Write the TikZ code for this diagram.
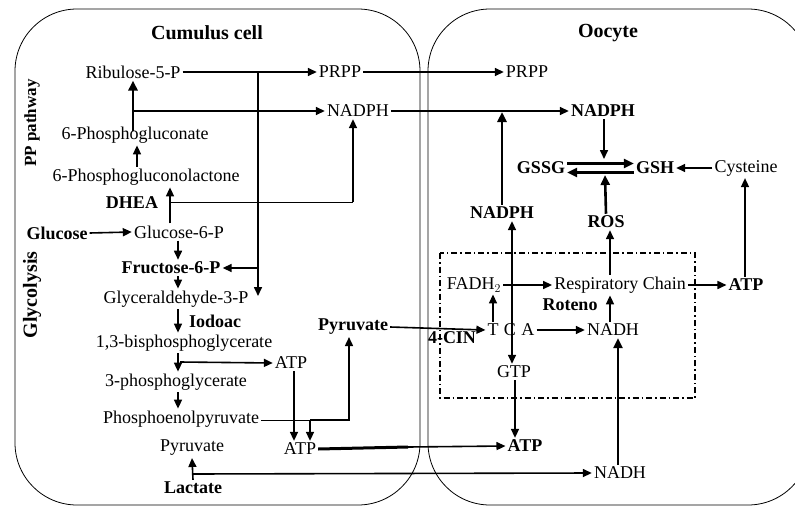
\documentclass[tikz,border=0pt]{standalone}
\usepackage{fontspec}
\setmainfont{Liberation Serif}
\usetikzlibrary{arrows.meta}
\begin{document}
\begin{tikzpicture}[x=1pt,y=-1pt,
  lbl/.style={inner sep=2pt, font=\fontsize{18}{20}\selectfont},
  blbl/.style={inner sep=2pt, font=\fontsize{18}{20}\selectfont\bfseries},
  hdr/.style={inner sep=1pt, font=\fontsize{20}{22}\selectfont\bfseries},
  cell/.style={draw, line width=0.8pt, rounded corners=62pt},
  arr/.style={-{Triangle[length=9pt,width=8pt]}, line width=1.6pt},
  arrT/.style={-{Triangle[length=10pt,width=9pt]}, line width=2.6pt},
  boxline/.style={line width=1.5pt, dash pattern=on 6pt off 3pt on 1.5pt off 3pt}]
\useasboundingbox (0,0) rectangle (795,506);
\fill[white] (0,0) rectangle (795,506);
% cells
\draw[cell] (15,9) rectangle (420,505);
\draw[cell] (428,9) rectangle (810,505);
% mitochondrion box
\draw[boxline] (440,253) rectangle (695,398);
% headers
\node[hdr] (hdrL) at (207,33) {Cumulus cell};
\node[hdr] (hdrR) at (608,33) {Oocyte};
\node[inner sep=1pt, font=\fontsize{17}{19}\selectfont\bfseries, rotate=90] (pp) at (32,123) {PP pathway};
\node[inner sep=1pt, font=\fontsize{20}{22}\selectfont\bfseries, rotate=90] (gly) at (32,295) {Glycolysis};
% cumulus nodes
\node[lbl] (rib) at (133,72) {Ribulose-5-P};
\node[lbl] (prppA) at (340,72) {PRPP};
\node[lbl] (prppB) at (527,72) {PRPP};
\node[lbl] (nadphA) at (358,111) {NADPH};
\node[blbl] (nadphB) at (603,111) {NADPH};
\node[lbl] (pglu) at (135,135) {6-Phosphogluconate};
\node[lbl] (pgl) at (146,177) {6-Phosphogluconolactone};
\node[blbl] (dhea) at (132,203) {DHEA};
\node[blbl] (glc) at (57,233) {Glucose};
\node[lbl] (g6p) at (179,232) {Glucose-6-P};
\node[blbl] (f6p) at (171,268) {Fructose-6-P};
\node[lbl] (gap) at (176,299) {Glyceraldehyde-3-P};
\node[blbl] (iodo) at (215,321) {Iodoac};
\node[lbl] (bpg) at (184,343) {1,3-bisphosphoglycerate};
\node[lbl] (atpA) at (291,363) {ATP};
\node[lbl] (pg3) at (176,382) {3-phosphoglycerate};
\node[lbl] (pep) at (181,419) {Phosphoenolpyruvate};
\node[blbl] (pyrA) at (353,327) {Pyruvate};
\node[lbl] (atpB) at (300,449) {ATP};
\node[lbl] (pyrB) at (192,448) {Pyruvate};
\node[blbl] (lac) at (193,488) {Lactate};
% oocyte nodes
\node[blbl] (atpC) at (525,446) {ATP};
\node[lbl] (nadhB) at (620,473) {NADH};
\node[blbl] (gssg) at (541,168) {GSSG};
\node[blbl] (gsh) at (655,168) {GSH};
\node[lbl] (cys) at (746,168) {Cysteine};
\node[blbl] (ros) at (606,222) {ROS};
\node[blbl] (nadphC) at (502,213) {NADPH};
\node[lbl] (fadh) at (474,285) {FADH$_2$};
\node[lbl] (resp) at (620,285) {Respiratory Chain};
\node[blbl] (atpD) at (746,285) {ATP};
\node[blbl] (roteno) at (570,305) {Roteno};
\node[lbl] (tca) at (511,330) {\addfontfeature{LetterSpace=30}TCA};
\node[lbl] (nadhA) at (613,330) {NADH};
\node[blbl] (cin) at (452,338) {4-CIN};
\node[lbl] (gtp) at (514,372) {GTP};
% lane coordinates
\coordinate (x133) at (133,0);
\coordinate (x137) at (137,0);
\coordinate (x170) at (170,0);
\coordinate (x178) at (178,0);
\coordinate (x294) at (294,0);
\coordinate (x310) at (310,0);
\coordinate (x349) at (349,0);
\coordinate (x353) at (353,0);
\coordinate (x493) at (493,0);
\coordinate (x512) at (512,0);
\coordinate (x515) at (515,0);
\coordinate (x604) at (604,0);
\coordinate (x610) at (610,0);
\coordinate (x618) at (618,0);
\coordinate (x745) at (745,0);
\coordinate (jA) at (258,72);
\coordinate (jB) at (258,268);
\coordinate (jC) at (258,296);
\coordinate (k1) at (133,111);
\coordinate (k0) at (133,131);
\coordinate (dA) at (170,202);
\coordinate (dB) at (353,202);
\coordinate (bA) at (180,362);
\coordinate (pA) at (349,420);
\coordinate (pB) at (310,420);
\coordinate (tA) at (408,447);
\coordinate (lA) at (192,474);
\coordinate (nA) at (502,112);
\coordinate (gA) at (604,159);
\coordinate (rA) at (605,175);
% cumulus connectors
\draw[arr] (rib.east) -- (prppA.west);
\draw[arr] (prppA.east) -- (prppB.west);
\draw[arr] (jA) -- (jC);
\draw[arr] (jB) -- (f6p.east);
\draw[arrT] (k0) -- (rib.south -| x133);
\draw[arr] (k1) -- (nadphA.west);
\draw[arr] (nadphA.east) -- (nadphB.west);
\draw[arr] (pgl.north -| x137) -- (pglu.south -| x137);
\draw[arr] (g6p.north -| x170) -- (pgl.south -| x170);
\draw[line width=1pt] (dA) -- (dB);
\draw[arr] (dB) -- (nadphA.south -| x353);
\draw[arr] (glc.east) -- (g6p.west);
\draw[arr] (g6p.south -| x178) -- (f6p.north -| x178);
\draw[arr] (f6p.south -| x178) -- (gap.north -| x178);
\draw[arr] (gap.south -| x178) -- (bpg.north -| x178);
\draw[arr] (bpg.south -| x178) -- (pg3.north -| x178);
\draw[arr] (bA) -- (atpA.west);
\draw[arr] (pg3.south -| x178) -- (pep.north -| x178);
\draw[line width=1pt] (pep.east |- pB) -- (pB);
\draw[arr] (pB) -- (pA) -- (pyrA.south -| x349);
\draw[arr] (pB) -- (atpB.north -| x310);
\draw[arr] (atpA.south -| x294) -- (atpB.north -| x294);
\draw[line width=3pt] (atpB.east) -- (tA);
\draw[arr] (tA) -- (atpC.west);
\draw[arr] (lac.north) -- (pyrB.south);
\draw[arr] (lA) -- (nadhB.west);
\draw[arr] (pyrA.east) -- (tca.west);
% oocyte connectors
\draw[arrT] (nadphC.north) -- (nA);
\draw[arr] (nadphB.south -| x604) -- (gA);
\draw[arrT] ([yshift=4.5pt]gssg.east) -- ([yshift=4.5pt]gsh.west);
\draw[arrT] ([yshift=-4.5pt]gsh.west) -- ([yshift=-4.5pt]gssg.east);
\draw[arr] (cys.west) -- (gsh.east);
\draw[arrT] (ros.north) -- (rA);
\draw[arr] (tca.south -| x512) -- (nadphC.south -| x512);
\draw[arr] (tca.south -| x512) -- (gtp.north -| x512);
\draw[arr] (tca.north -| x493) -- (fadh.south -| x493);
\draw[arr] (fadh.east) -- (resp.west);
\draw[arr] (resp.east) -- (atpD.west);
\draw[arr] (atpD.north -| x745) -- (cys.south -| x745);
\draw[arr] (resp.north -| x610) -- (ros.south -| x610);
\draw[arr] (nadhA.north -| x610) -- (resp.south -| x610);
\draw[arr] (tca.east) -- (nadhA.west);
\draw[arr] (gtp.south -| x515) -- (atpC.north -| x515);
\draw[arrT] (nadhB.north -| x618) -- (nadhA.south -| x618);
\end{tikzpicture}
\end{document}
